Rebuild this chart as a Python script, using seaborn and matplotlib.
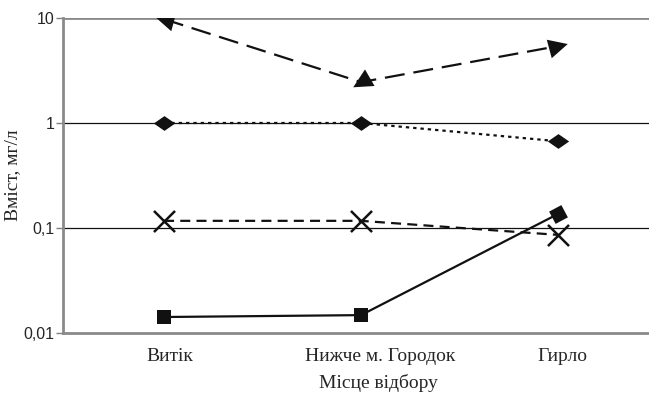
import matplotlib
matplotlib.use("Agg")
import matplotlib.pyplot as plt
from matplotlib.markers import MarkerStyle
from matplotlib.transforms import Affine2D, ScaledTranslation
import seaborn as sns
import pandas as pd

# Sampling sites and concentrations (mg/l)
sites = ["Витік", "Нижче м. Городок", "Гирло"]
series_a = [9.75, 2.45, 5.4]      # triangles, long dashes
series_b = [1.0, 1.0, 0.67]       # diamonds, dotted
series_c = [0.117, 0.117, 0.086]  # crosses, dashed
series_d = [0.0142, 0.0148, 0.136]  # squares, solid
y_ticks = [0.01, 0.1, 1, 10]
y_tick_labels = ["0,01", "0,1", "1", "10"]

sns.set_theme(style="white")
plt.rcParams["font.family"] = ["Liberation Serif", "DejaVu Serif"]

pos = list(range(len(sites)))
frames = []
for name, vals in [("a", series_a), ("b", series_b), ("c", series_c), ("d", series_d)]:
    frames.append(pd.DataFrame({"x": pos, "y": vals, "s": name}))
df = pd.concat(frames, ignore_index=True)

fig = plt.figure(figsize=(6.49, 3.99), dpi=100)
ax = fig.add_axes([63 / 649, 1 - 333 / 399, 1 - 63 / 649, (333 - 18) / 399])

dashes = {"a": (9, 4), "b": (1.5, 1.8), "c": (4.5, 2.8), "d": ""}
sns.lineplot(data=df, x="x", y="y", style="s", dashes=dashes, sort=False,
             color="#111111", linewidth=1.6, legend=False, ax=ax, zorder=3)

def rot(base, deg, sx=1.0, sy=1.0):
    return MarkerStyle(base, transform=Affine2D().scale(sx, sy).rotate_deg(deg))

# triangles point along the connecting segments
tri_angles = [75, 120, -75]
for x, y, a in zip(pos, series_a, tri_angles):
    ax.scatter([x], [y], marker=rot("^", a), s=190, color="#111111", zorder=4, linewidths=0)
for x, y in zip(pos, series_b):
    ax.scatter([x], [y], marker=rot("D", 0, 1.3, 0.9), s=70, color="#111111", zorder=4, linewidths=0)
ax.scatter(pos, series_c, marker="x", s=230, color="#111111", zorder=4, linewidths=1.8)
sq_angles = [0, 0, 28]
for x, y, a in zip(pos, series_d, sq_angles):
    ax.scatter([x], [y], marker=rot("s", a), s=100, color="#111111", zorder=4, linewidths=0)

ax.set_yscale("log")
ax.set_ylim(0.01, 10)
ax.set_xlim(-0.513, 2.462)
ax.set_yticks(y_ticks)
ax.set_yticklabels(y_tick_labels, fontfamily="Liberation Sans", fontsize=11.5)
ax.minorticks_off()
ax.tick_params(axis="y", which="major", length=5, width=1, color="#808080",
               direction="out", pad=1, left=True)
ax.set_xticks(pos)
ax.set_xticklabels(sites, fontsize=14)
ax.tick_params(axis="x", length=0, pad=11)
# nudge the category labels slightly to the right
for lab, dx in zip(ax.get_xticklabels(), [6, 19, 4]):
    lab.set_transform(lab.get_transform() + ScaledTranslation(dx / 100, 0, fig.dpi_scale_trans))

for v in [0.1, 1]:
    ax.axhline(v, color="#111111", linewidth=0.9, zorder=1)
ax.axhline(10, color="#8a8a8a", linewidth=2.0, zorder=1)

for side in ["top", "right"]:
    ax.spines[side].set_visible(False)
for side in ["left", "bottom"]:
    ax.spines[side].set_color("#8a8a8a")
    ax.spines[side].set_linewidth(2.0)

ax.set_xlabel("Місце відбору", fontsize=14)
ax.xaxis.set_label_coords((378 - 63) / 586, (333 - 374) / 315)
ax.set_ylabel("Вміст, мг/л", fontsize=14)
ax.yaxis.set_label_coords((21 - 63) / 586, 0.5)

fig.savefig("out.png", dpi=100)
